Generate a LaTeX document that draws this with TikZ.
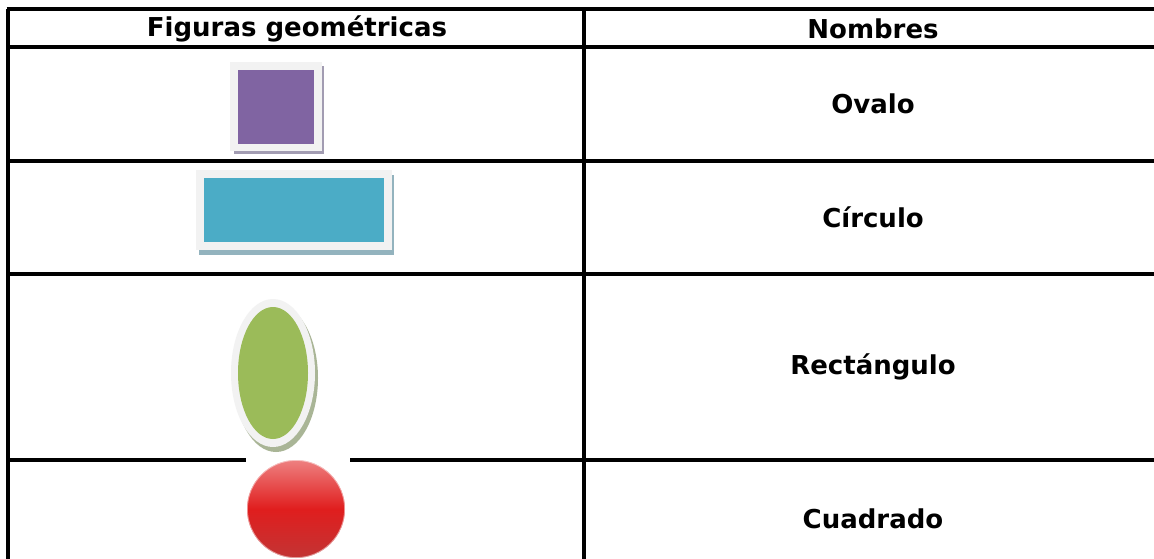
\documentclass[tikz,border=0pt]{standalone}
\usepackage{fontspec}
\setmainfont{DejaVu Sans}
\definecolor{purp}{HTML}{8064A2}
\definecolor{purpsh}{HTML}{A29CB2}
\definecolor{teal}{HTML}{4BACC6}
\definecolor{tealsh}{HTML}{93B3BE}
\definecolor{grn}{HTML}{9BBB59}
\definecolor{grnsh}{HTML}{A9B596}
\definecolor{frame}{HTML}{F2F2F2}
\definecolor{redtop}{HTML}{EE8080}
\definecolor{redmid}{HTML}{E01E1E}
\definecolor{redbot}{HTML}{C23434}
\begin{document}
\begin{tikzpicture}[x=1pt,y=-1pt,
  rule/.style={line width=3.2pt,black},
  label/.style={font=\fontsize{26}{30}\selectfont\bfseries,inner sep=0pt}]
\useasboundingbox[fill=white] (0,0) rectangle (1154,558);
% table rules
\draw[rule] (6.5,9) -- (1160,9);
\draw[rule] (6.5,47) -- (1160,47);
\draw[rule] (6.5,161) -- (1160,161);
\draw[rule] (6.5,274) -- (1160,274);
\draw[rule] (6.5,460) -- (1160,460);
\draw[rule] (8,9) -- (8,565);
\draw[rule] (584,9) -- (584,565);
% header
\node[label] (h1) at (297,28.5) {Figuras geométricas};
\node[label] (h2) at (873,28.5) {Nombres};
% names
\node[label] (n1) at (873,104) {Ovalo};
\node[label] (n2) at (873,217) {Círculo};
\node[label] (n3) at (873,367) {Rectángulo};
\node[label] (n4) at (873,519) {Cuadrado};
% purple square
\fill[purpsh] (234,66) rectangle (324,154);
\fill[frame] (230,62) rectangle (322,151);
\fill[purp] (238,70) rectangle (314,144);
% teal rectangle
\fill[tealsh] (199,175) rectangle (394,255);
\fill[frame] (196,170) rectangle (392,250);
\fill[teal] (204,178) rectangle (384,242);
% green ellipse
\fill[grnsh] (276,378) ellipse (42 and 74);
\fill[frame] (273,373) ellipse (42 and 74);
\fill[grn] (273,373) ellipse (35 and 66);
% red ball (image with white background)
\fill[white] (246,458) rectangle (350,560);
\shade[top color=redtop, bottom color=redbot, middle color=redmid] (296,509) circle (49);
\draw[white,opacity=0.5,line width=0.8pt] (296,509) circle (48.6);
\end{tikzpicture}
\end{document}
